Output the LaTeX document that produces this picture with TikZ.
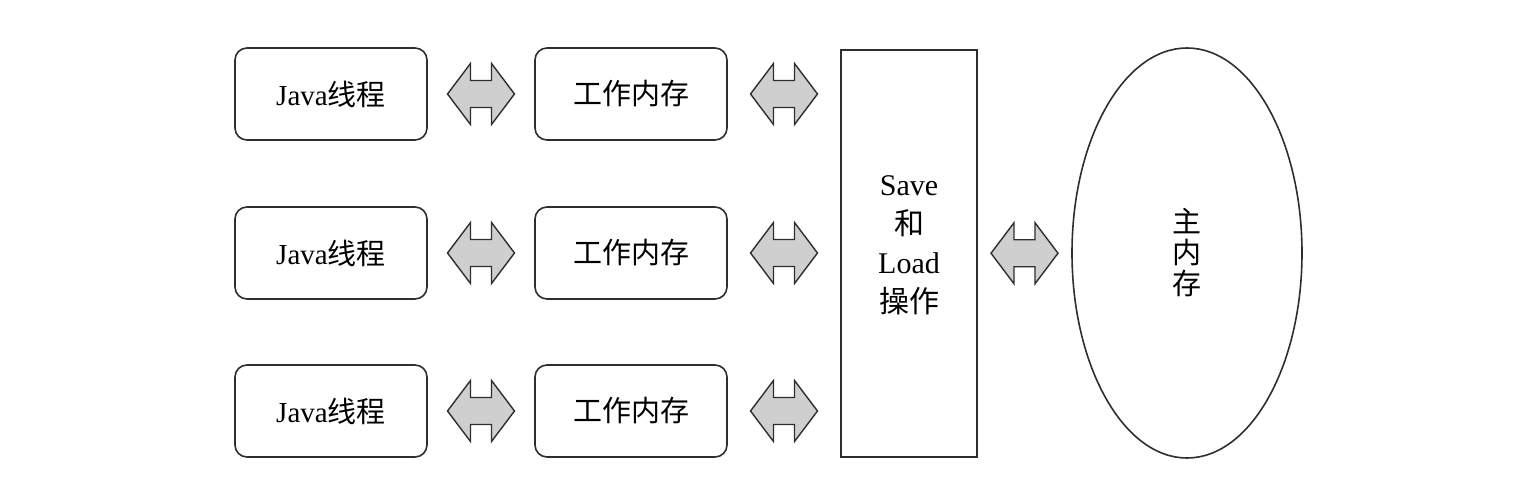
\documentclass[tikz,border=0pt]{standalone}
\usepackage{fontspec}
\setmainfont{Liberation Serif}
\newfontfamily\cjk{Noto Sans CJK SC}
\usetikzlibrary{shapes.geometric,calc}
\definecolor{linec}{HTML}{2E2E2E}
\definecolor{arrfill}{HTML}{CFCFCF}
\begin{document}
\begin{tikzpicture}[x=0.5pt,y=-0.5pt,
  rbox/.style={draw=linec,line width=0.8pt,rounded corners=6pt,minimum width=96pt,minimum height=46pt,inner sep=0pt,font=\fontsize{14.5}{17}\selectfont},
  slbox/.style={draw=linec,line width=0.8pt,minimum width=68pt,minimum height=203.5pt,inner sep=0pt},
  mainmem/.style={draw=linec,line width=0.8pt,ellipse,minimum width=115pt,minimum height=205pt,inner sep=0pt},
  txt/.style={inner sep=0pt,align=center},
  fat/.style={draw=linec,line width=0.7pt,fill=arrfill,line join=miter}]
\useasboundingbox (0,0) rectangle (1522,492);
\newcommand\fatarr[1]{\draw[fat] ([shift={(-33.5,0)}]#1) -- ++(23,-30.5) -- ++(0,17) -- ++(21,0) -- ++(0,-17) -- ++(23,30.5) -- ++(-23,30.5) -- ++(0,-17) -- ++(-21,0) -- ++(0,17) -- cycle;}
% rows
\foreach \i/\y in {1/94,2/253,3/411}{
  \node[rbox] (j\i) at (331,\y) {Java{\cjk 线程}};
  \node[rbox] (w\i) at (631,\y) {\cjk 工作内存};
}
\node[slbox] (sl) at (909,253.5) {};
\node[txt,font=\fontsize{15}{19.5}\selectfont] (sltext) at (909,245) {Save\\{\cjk 和}\\Load\\{\cjk 操作}};
\node[mainmem] (mm) at (1187,253) {};
\node[txt,font=\cjk\fontsize{14.5}{15.5}\selectfont] (mmtext) at (1187,253) {主\\内\\存};
% fat double arrows between nodes
\foreach \i in {1,2,3}{
  \coordinate (a\i) at ($(j\i.east)!0.5!(w\i.west)$);
  \coordinate (b\i) at ($(w\i.east)!0.5!(sl.west|-w\i.east)$);
}
\coordinate (c) at ($(sl.east)!0.5!(mm.west)$);
\foreach \i in {1,2,3}{\fatarr{a\i}\fatarr{b\i}}
\fatarr{c}
\end{tikzpicture}
\end{document}
